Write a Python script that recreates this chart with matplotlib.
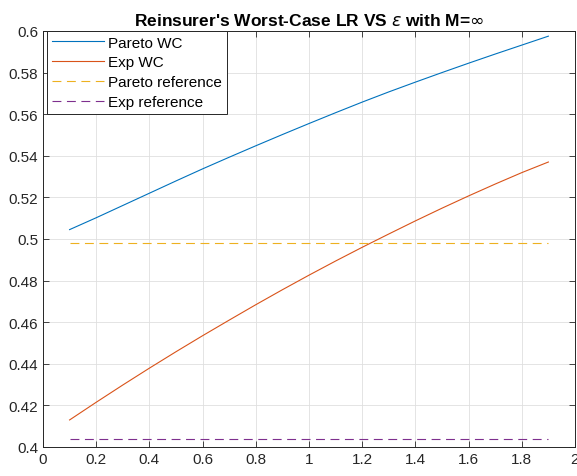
import numpy as np
import matplotlib
matplotlib.use("Agg")
import matplotlib.pyplot as plt

plt.rcParams['font.family'] = ['Liberation Sans', 'DejaVu Sans']
plt.rcParams['mathtext.fontset'] = 'dejavusans'

eps = [0.1, 0.2, 0.3, 0.4, 0.5, 0.6, 0.7, 0.8, 0.9, 1.0,
       1.1, 1.2, 1.3, 1.4, 1.5, 1.6, 1.7, 1.8, 1.9]
pareto_wc = [0.5045, 0.5102, 0.5161, 0.5220, 0.5279, 0.5337, 0.5393, 0.5448, 0.5502,
             0.5555, 0.5607, 0.5658, 0.5707, 0.5754, 0.5800, 0.5845, 0.5889, 0.5932, 0.5975]
exp_wc = [0.4130, 0.4215, 0.4298, 0.4379, 0.4458, 0.4535, 0.4610, 0.4684, 0.4756,
          0.4826, 0.4894, 0.4960, 0.5024, 0.5087, 0.5148, 0.5207, 0.5264, 0.5319, 0.5370]
pareto_ref = 0.498
exp_ref = 0.404

fig = plt.figure(figsize=(5.77, 4.77), dpi=100)
ax = fig.add_axes([0.0745, 0.0608, 0.922, 0.8722])

ax.plot(eps, pareto_wc, color='#0072BD', lw=0.8, label='Pareto WC')
ax.plot(eps, exp_wc, color='#D95319', lw=0.8, label='Exp WC')
ax.plot(eps, [pareto_ref] * len(eps), color='#EDB120', lw=0.8, ls=(0, (8, 5)), label='Pareto reference')
ax.plot(eps, [exp_ref] * len(eps), color='#7E2F8E', lw=0.8, ls=(0, (8, 5)), label='Exp reference')

ax.set_xlim(0, 2)
ax.set_ylim(0.4, 0.6)
ax.set_xticks(np.arange(0, 2.01, 0.2))
ax.set_xticklabels(['0', '0.2', '0.4', '0.6', '0.8', '1', '1.2', '1.4', '1.6', '1.8', '2'])
ax.set_yticks(np.arange(0.4, 0.601, 0.02))
ax.set_yticklabels(['0.4', '0.42', '0.44', '0.46', '0.48', '0.5', '0.52', '0.54', '0.56', '0.58', '0.6'])
ax.grid(True, color='#dfdfdf', lw=0.6)
ax.set_axisbelow(True)
ax.tick_params(direction='in', top=True, right=True, labelsize=11, colors='#262626', length=4, width=0.6)
for s in ax.spines.values():
    s.set_color('#262626')
    s.set_linewidth(0.7)

ax.set_title("Reinsurer's Worst-Case LR VS $\\epsilon$ with M=$\\infty$", fontsize=12.5,
             fontweight='bold', pad=4)

leg = ax.legend(loc='upper left', bbox_to_anchor=(0.0075, 1.0), fontsize=11, fancybox=False,
                framealpha=1, edgecolor='#262626', borderpad=0.3, labelspacing=0.38,
                handlelength=3.4, handletextpad=0.3, borderaxespad=0)
leg.get_frame().set_linewidth(0.7)

fig.savefig('out.png', dpi=100)
